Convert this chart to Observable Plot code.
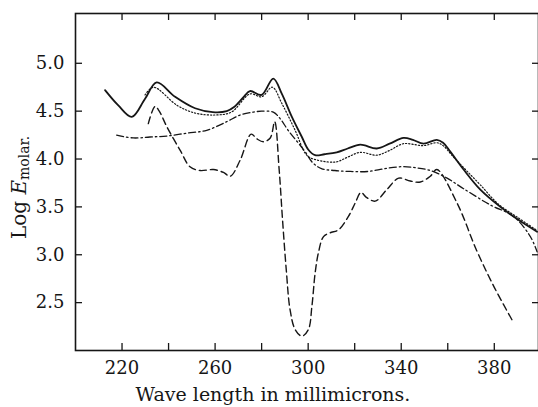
<!DOCTYPE html>
<html>
<head>
<meta charset="utf-8">
<script src="https://cdn.jsdelivr.net/npm/d3@7"></script>
<script src="https://cdn.jsdelivr.net/npm/@observablehq/plot@0.6"></script>
<style>
  html, body { margin: 0; padding: 0; background: #fff; }
  #chart svg { display: block; }
</style>
</head>
<body>
<div id="chart"></div>
<script>
// Wave length (millimicrons) and Log E_molar for each curve
const solidWL  = [212.7, 218.4, 224.2, 229.9, 234.9, 242.8, 251.4, 259, 265, 268, 272, 275, 280, 285, 288.7, 293, 297.3, 300, 303, 307, 312.3, 317, 322.4, 329.5, 335, 341, 345, 349.6, 355.3, 358, 361, 366.8, 374, 382.6, 390, 398.4];
const solidLog = [4.72, 4.56, 4.44, 4.63, 4.80, 4.65, 4.53, 4.49, 4.50, 4.54, 4.64, 4.71, 4.67, 4.84, 4.68, 4.44, 4.23, 4.10, 4.04, 4.05, 4.07, 4.11, 4.15, 4.11, 4.16, 4.22, 4.20, 4.16, 4.20, 4.17, 4.08, 3.89, 3.68, 3.50, 3.37, 3.24];

const dottedWL  = [229.9, 233.5, 243.7, 251.4, 260, 267, 275, 280, 284.6, 288.7, 294.4, 299.4, 303.7, 312, 317, 322.4, 329.5, 335, 341, 349.6, 355.3, 358, 362.5, 368, 374, 381.7, 390, 398];
const dottedLog = [4.67, 4.75, 4.56, 4.48, 4.46, 4.49, 4.68, 4.65, 4.75, 4.58, 4.30, 4.04, 3.99, 3.97, 4.02, 4.07, 4.04, 4.09, 4.16, 4.14, 4.17, 4.14, 4.02, 3.88, 3.73, 3.53, 3.39, 3.26];

const dashDotWL  = [217.7, 224.8, 232, 239.2, 247.8, 256.4, 265, 270.8, 276.5, 280, 285, 288, 291.4, 298.6, 302, 305.7, 311.5, 318, 325.8, 333, 340.1, 345.9, 352.5, 359.7, 366.8, 378.3, 388.3, 395.5, 398.4];
const dashDotLog = [4.25, 4.22, 4.23, 4.24, 4.27, 4.30, 4.39, 4.46, 4.49, 4.50, 4.49, 4.42, 4.30, 4.08, 3.96, 3.90, 3.88, 3.87, 3.87, 3.90, 3.92, 3.91, 3.88, 3.80, 3.69, 3.52, 3.40, 3.19, 3.03];

const dashedWL  = [231.3, 234.2, 236, 239.2, 245, 249.2, 253.5, 259.3, 263.6, 266.5, 270.8, 275.5, 278, 280.8, 283.7, 285.6, 287.5, 289.0, 290.6, 292.2, 294.4, 297.3, 300.1, 301.6, 303, 304.4, 306.6, 309.5, 313, 317.3, 320.2, 322.7, 325, 328.8, 333.8, 338.9, 343.9, 348.2, 352.5, 355.3, 364, 372.5, 380, 388.3];
const dashedLog = [4.37, 4.55, 4.50, 4.34, 4.09, 3.92, 3.88, 3.89, 3.86, 3.82, 3.99, 4.26, 4.21, 4.18, 4.22, 4.39, 3.90, 3.36, 2.84, 2.43, 2.22, 2.15, 2.22, 2.46, 2.81, 3.02, 3.19, 3.23, 3.26, 3.40, 3.54, 3.65, 3.60, 3.56, 3.68, 3.80, 3.77, 3.76, 3.82, 3.89, 3.54, 3.04, 2.66, 2.29];

const xTicks  = [220, 240, 260, 280, 300, 320, 340, 360, 380];
const xLabels = [220, 260, 300, 340, 380];
const yTicks  = [2.5, 3.0, 3.5, 4.0, 4.5, 5.0];
const xTitle  = "Wave length in millimicrons.";

const toRows = (xs, ys) => xs.map((x, i) => ({x, y: ys[i]}));
const ink = "#161616";
const font = "DejaVu Serif";

const W = 538, H = 407, mL = 75, mR = 0, mT = 13, mB = 57, tickLen = 7;
const frameH = H - mT - mB;

const plot = Plot.plot({
  width: W,
  height: H,
  marginLeft: mL,
  marginRight: mR,
  marginTop: mT,
  marginBottom: mB,
  x: {domain: [200, 399]},
  y: {domain: [2.0, 5.52]},
  marks: [
    Plot.frame({stroke: ink, strokeWidth: 1.6}),
    // inward ticks on all four sides
    Plot.tickX(xTicks, {x: d => d, insetTop: frameH - tickLen, stroke: ink, strokeWidth: 1.3}),
    Plot.tickX(xTicks, {x: d => d, insetBottom: frameH - tickLen, stroke: ink, strokeWidth: 1.3}),
    Plot.axisY(yTicks, {anchor: "left", tickSize: -tickLen, fill: "none", label: null, stroke: ink, strokeWidth: 1.3}),
    Plot.axisY(yTicks, {anchor: "right", tickSize: -tickLen, fill: "none", label: null, stroke: ink, strokeWidth: 1.3}),
    Plot.axisX(xLabels, {anchor: "bottom", tickSize: 0, tickPadding: 11, label: null, fontSize: 18, fontFamily: font, fill: ink, tickFormat: d => String(d)}),
    Plot.axisY(yTicks, {anchor: "left", tickSize: 0, tickPadding: 11, label: null, fontSize: 18, fontFamily: font, fill: ink, tickFormat: d => d.toFixed(1)}),
    Plot.line(toRows(dashDotWL, dashDotLog), {x: "x", y: "y", stroke: ink, strokeWidth: 1.3, strokeDasharray: "7,3,1.5,3", curve: "catmull-rom"}),
    Plot.line(toRows(dashedWL, dashedLog), {x: "x", y: "y", stroke: ink, strokeWidth: 1.4, strokeDasharray: "7,4", curve: "catmull-rom"}),
    Plot.line(toRows(dottedWL, dottedLog), {x: "x", y: "y", stroke: ink, strokeWidth: 1.2, strokeDasharray: "1.2,2", curve: "catmull-rom"}),
    Plot.line(toRows(solidWL, solidLog), {x: "x", y: "y", stroke: ink, strokeWidth: 1.8, curve: "catmull-rom"})
  ]
});

const svg = d3.select(plot);
// x-axis title
svg.append("text")
  .attr("x", 273)
  .attr("y", 401)
  .attr("text-anchor", "middle")
  .attr("fill", ink)
  .style("font-family", font)
  .style("font-size", "19px")
  .text(xTitle);
// y-axis title: Log E_molar.
const yt = svg.append("text")
  .attr("transform", "translate(26,239) rotate(-90)")
  .attr("text-anchor", "start")
  .attr("fill", ink)
  .style("font-family", font)
  .style("font-size", "20px");
yt.append("tspan").text("Log ");
yt.append("tspan").style("font-style", "italic").text("E");
yt.append("tspan").attr("dy", 3).style("font-size", "14px").text("molar.");

document.getElementById("chart").appendChild(plot);
</script>
</body>
</html>
